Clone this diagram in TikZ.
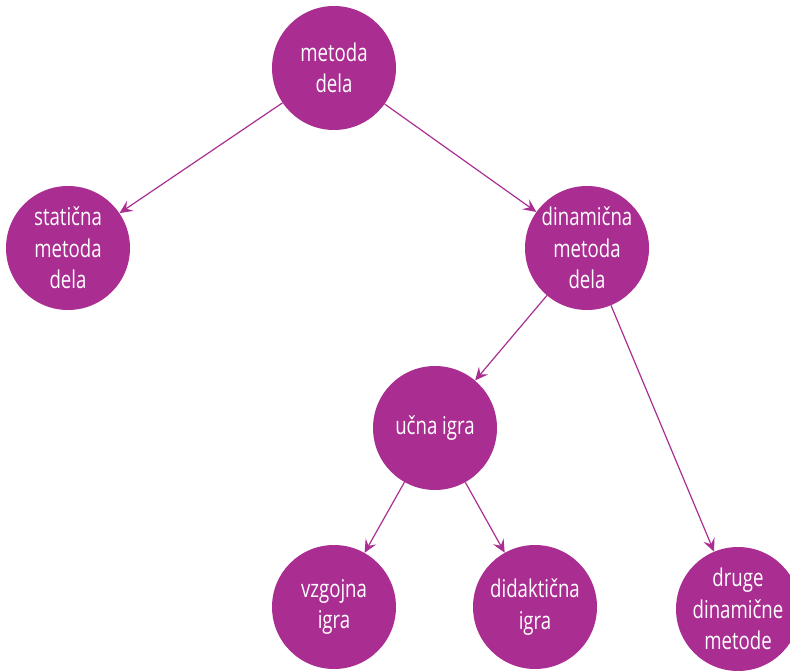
\documentclass[tikz,border=0pt]{standalone}
\usepackage{fontspec}
\setmainfont[FakeStretch=0.76]{Open Sans}
\usetikzlibrary{arrows.meta}
\definecolor{vijola}{RGB}{170,46,146}
\tikzset{
  krog/.style={circle,fill=vijola,text=white,minimum size=124pt,inner sep=0pt,
    align=center,font=\fontsize{24.5}{31.5}\selectfont},
  puscica/.style={draw=vijola,line width=1.2pt,
    -{Stealth[length=13pt,width=12pt,inset=5pt]}}
}
\begin{document}
\begin{tikzpicture}[x=1pt,y=-1pt]
            \useasboundingbox (0,0) rectangle (790,671);
            \node[krog] (metoda) at (334,68) {metoda\\dela};
            \node[krog] (staticna) at (68,248) {statična\\metoda\\dela};
            \node[krog] (dinamicna) at (587,248) {dinamična\\metoda\\dela};
            \node[krog] (ucna) at (435,428) {učna igra};
            \node[krog] (vzgojna) at (334,607) {vzgojna\\igra};
            \node[krog] (didakticna) at (535,607) {didaktična\\igra};
            \node[krog] (druge) at (738,609) {druge\\dinamične\\metode};

            \draw[puscica] (metoda) -- (staticna);
            \draw[puscica] (metoda) -- (dinamicna);
            \draw[puscica] (dinamicna) -- (ucna);
            \draw[puscica] (dinamicna) -- (druge);
            \foreach \i in {vzgojna,didakticna}
                \draw[puscica] (ucna) -- (\i);
        \end{tikzpicture}
\end{document}
